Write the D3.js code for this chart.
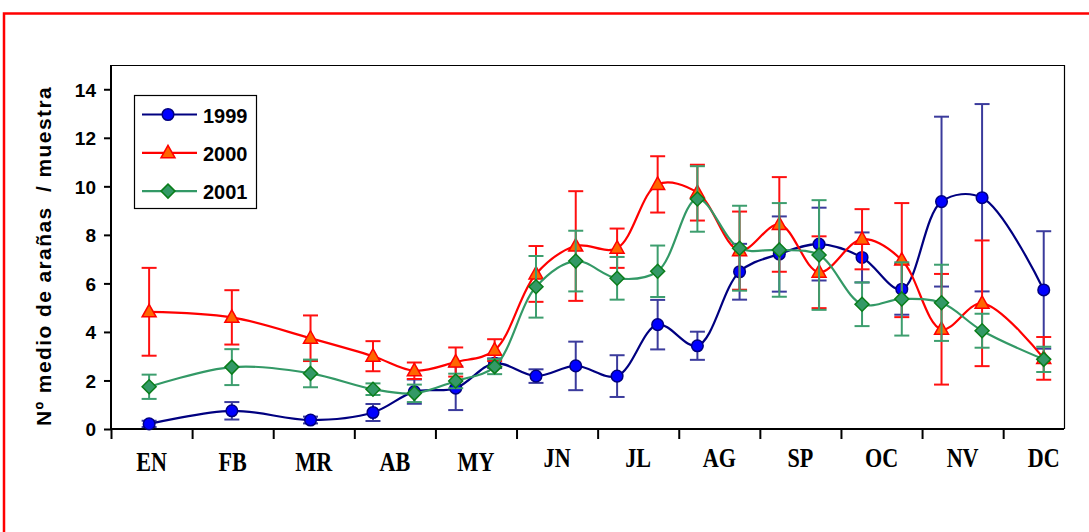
<!DOCTYPE html>
<html>
<head>
<meta charset="utf-8">
<script src="https://cdn.jsdelivr.net/npm/d3@7"></script>
<style>
  html, body { margin: 0; padding: 0; background: #fff; }
  svg { display: block; }
</style>
</head>
<body>
<svg id="chart" width="1089" height="532"></svg>
<script>
// ---- data ----
const monthLabels = ["EN", "FB", "MR", "AB", "MY", "JN", "JL", "AG", "SP", "OC", "NV", "DC"];
const yTicks = [0, 2, 4, 6, 8, 10, 12, 14];
// sampling dates, expressed in months since 1 January
const samplingMonth = [0.47, 1.49, 2.46, 3.23, 3.74, 4.25, 4.73, 5.24, 5.73, 6.24, 6.74, 7.23, 7.75, 8.24, 8.73, 9.26, 9.75, 10.24, 10.74, 11.5];
const mean1999 = [0.21, 0.75, 0.37, 0.68, 1.54, 1.68, 2.71, 2.18, 2.6, 2.18, 4.3, 3.43, 6.48, 7.21, 7.62, 7.07, 5.76, 9.37, 9.53, 5.73];
const err1999  = [0.13, 0.36, 0.14, 0.35, 0.5, 0.9, 0.2, 0.28, 1.0, 0.86, 1.02, 0.58, 1.15, 1.55, 1.5, 1.03, 1.05, 3.5, 3.86, 2.42];
const mean2000 = [4.83, 4.6, 3.74, 3.0, 2.4, 2.76, 3.25, 6.39, 7.54, 7.45, 10.08, 9.74, 7.35, 8.43, 6.46, 7.82, 6.96, 4.11, 5.18, 2.91];
const err2000  = [1.81, 1.12, 0.94, 0.62, 0.34, 0.6, 0.45, 1.15, 2.26, 0.81, 1.16, 1.15, 1.61, 1.95, 1.48, 1.24, 2.35, 2.28, 2.59, 0.88];
const mean2001 = [1.74, 2.55, 2.29, 1.64, 1.47, 1.98, 2.57, 5.86, 6.92, 6.21, 6.5, 9.48, 7.45, 7.38, 7.17, 5.14, 5.36, 5.2, 4.05, 2.87];
const err2001  = [0.5, 0.74, 0.57, 0.24, 0.36, 0.3, 0.31, 1.27, 1.25, 0.88, 1.06, 1.35, 1.75, 1.93, 2.26, 0.9, 1.51, 1.57, 0.7, 0.52];
const seriesNames = ["1999", "2000", "2001"];

// ---- styles ----
const styles = {
  "1999": { line: "#000080", fill: "#0000ff", stroke: "#000080", err: "#3b3b9c", shape: "circle" },
  "2000": { line: "#ff0000", fill: "#ff6600", stroke: "#ff0000", err: "#ff1010", shape: "triangle" },
  "2001": { line: "#339966", fill: "#339966", stroke: "#0a7d1a", err: "#3d9e6e", shape: "diamond" }
};

const series = [
  { name: seriesNames[0], mean: mean1999, err: err1999 },
  { name: seriesNames[1], mean: mean2000, err: err2000 },
  { name: seriesNames[2], mean: mean2001, err: err2001 }
].map(s => ({ ...s, pts: samplingMonth.map((m, i) => ({ x: m, y: s.mean[i], e: s.err[i] })) }));

const svg = d3.select("#chart");
const W = 1089, H = 532;
const plot = { left: 111, right: 1064, top: 65, bottom: 429 };

const x = d3.scaleLinear().domain([0, 11.75]).range([plot.left, plot.right]);
const y = d3.scaleLinear().domain([0, 15]).range([plot.bottom, plot.top]);

// background + red frame
svg.append("rect").attr("width", W).attr("height", H).attr("fill", "#fff");
svg.append("rect").attr("x", 4).attr("y", 13.5).attr("width", 1200).attr("height", 700)
  .attr("fill", "none").attr("stroke", "#ff0000").attr("stroke-width", 2.5);

// plot area border (top/right thin)
svg.append("path")
  .attr("d", `M${plot.left},${plot.top + 0.5}H${plot.right + 0.5}V${plot.bottom}`)
  .attr("fill", "none").attr("stroke", "#000").attr("stroke-width", 1.2);

// y axis
const yAxis = d3.axisLeft(y).tickValues(yTicks).tickSize(7).tickPadding(8).tickFormat(d3.format("d"));
const gy = svg.append("g").attr("transform", `translate(${plot.left},0)`).call(yAxis);
gy.select(".domain").remove();
gy.selectAll(".tick line").attr("stroke", "#000").attr("stroke-width", 2);
gy.selectAll(".tick text").attr("font-family", "'Liberation Sans', Arial, sans-serif")
  .attr("font-weight", "bold").attr("font-size", 19).attr("fill", "#000").attr("dy", "0.36em");
svg.append("line").attr("x1", plot.left).attr("x2", plot.left).attr("y1", plot.top).attr("y2", plot.bottom + 1)
  .attr("stroke", "#000").attr("stroke-width", 2);

// x axis (month boundaries)
const xAxis = d3.axisBottom(x).tickValues(d3.range(0, 12)).tickSize(10).tickFormat("");
const gx = svg.append("g").attr("transform", `translate(0,${plot.bottom})`).call(xAxis);
gx.select(".domain").remove();
gx.selectAll(".tick line").attr("stroke", "#000").attr("stroke-width", 2);
svg.append("line").attr("x1", plot.left - 1).attr("x2", plot.right).attr("y1", plot.bottom).attr("y2", plot.bottom)
  .attr("stroke", "#000").attr("stroke-width", 2);

// month labels
svg.append("g").selectAll("text").data(monthLabels).join("text")
  .attr("transform", (d, i) => `translate(${x(i + 0.5)},${i < 5 ? 471 : 467}) scale(0.82,1)`)
  .attr("text-anchor", "middle")
  .attr("font-family", "'Liberation Serif', 'Times New Roman', serif")
  .attr("font-weight", "bold").attr("font-size", 27).attr("fill", "#000")
  .text(d => d);

// y title
svg.append("text")
  .attr("transform", `translate(51,256) rotate(-90)`)
  .attr("text-anchor", "middle")
  .attr("font-family", "'Liberation Sans', Arial, sans-serif")
  .attr("font-weight", "bold").attr("font-size", 21).attr("letter-spacing", 1.4).attr("fill", "#000")
  .attr("xml:space", "preserve")
  .text("Nº medio de arañas  / muestra");

// marker shape
function markerPath(shape) {
  if (shape === "circle") return d3.symbol().type(d3.symbolCircle).size(Math.PI * 5.8 * 5.8)();
  if (shape === "triangle") return "M0,-7.5L7,5L-7,5Z";
  return "M0,-7L7,0L0,7L-7,0Z";
}

const line = d3.line().x(d => x(d.x)).y(d => y(d.y)).curve(d3.curveCatmullRom.alpha(0.5));
const capW = 7.5;

series.forEach(s => {
  const st = styles[s.name];
  const g = svg.append("g");
  // error bars
  const eb = g.append("g").selectAll("g").data(s.pts).join("g");
  eb.append("line").attr("x1", d => x(d.x)).attr("x2", d => x(d.x))
    .attr("y1", d => y(d.y - d.e)).attr("y2", d => y(d.y + d.e))
    .attr("stroke", st.err).attr("stroke-width", 2);
  eb.append("line").attr("x1", d => x(d.x) - capW).attr("x2", d => x(d.x) + capW)
    .attr("y1", d => y(d.y + d.e)).attr("y2", d => y(d.y + d.e))
    .attr("stroke", st.err).attr("stroke-width", 2);
  eb.append("line").attr("x1", d => x(d.x) - capW).attr("x2", d => x(d.x) + capW)
    .attr("y1", d => y(d.y - d.e)).attr("y2", d => y(d.y - d.e))
    .attr("stroke", st.err).attr("stroke-width", 2);
  // line
  g.append("path").datum(s.pts).attr("d", line)
    .attr("fill", "none").attr("stroke", st.line).attr("stroke-width", 2.2);
  // markers
  g.append("g").selectAll("path").data(s.pts).join("path")
    .attr("transform", d => `translate(${x(d.x)},${y(d.y)})`)
    .attr("d", markerPath(st.shape))
    .attr("fill", st.fill).attr("stroke", st.stroke).attr("stroke-width", 1.5);
});

// legend
const lg = svg.append("g");
lg.append("rect").attr("x", 134.5).attr("y", 95.5).attr("width", 122).attr("height", 113)
  .attr("fill", "#fff").attr("stroke", "#000").attr("stroke-width", 1.2);
const legendRows = seriesNames.map((n, i) => ({ name: n, i }));
const row = lg.selectAll("g.row").data(legendRows).join("g")
  .attr("transform", d => `translate(0,${114.5 + d.i * 38.3})`);
row.append("line").attr("x1", 142).attr("x2", 197).attr("y1", 0).attr("y2", 0)
  .attr("stroke", d => styles[d.name].line).attr("stroke-width", 2.2);
row.append("path").attr("transform", "translate(168,0)")
  .attr("d", d => markerPath(styles[d.name].shape))
  .attr("fill", d => styles[d.name].fill).attr("stroke", d => styles[d.name].stroke).attr("stroke-width", 1.5);
row.append("text").attr("x", 203).attr("y", 8)
  .attr("font-family", "'Liberation Sans', Arial, sans-serif")
  .attr("font-weight", "bold").attr("font-size", 20).attr("fill", "#000")
  .text(d => d.name);
</script>
</body>
</html>
